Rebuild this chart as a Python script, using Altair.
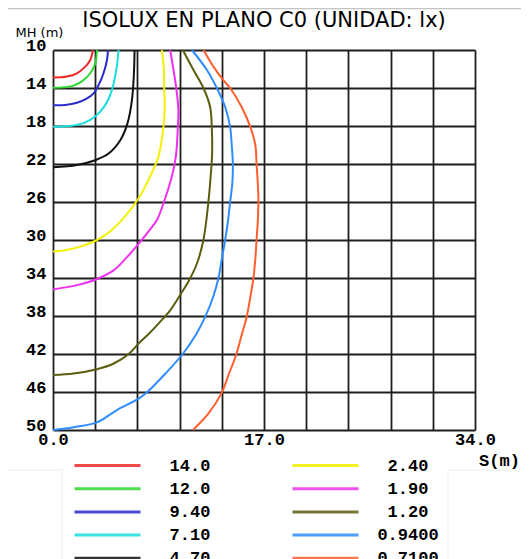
import altair as alt
import pandas as pd

# ---- data ----
levels = ["14.0", "12.0", "9.40", "7.10", "4.70", "2.40", "1.90", "1.20", "0.9400", "0.7100"]
colors = ["#ee2a2a", "#2fd82f", "#2a2acc", "#18dede", "#111111",
          "#f2f200", "#f030f0", "#5c5c10", "#2f8cff", "#ff5f2e"]

x_14 = [3.22, 3.0, 2.6, 1.93, 1.13, 0.0]
y_14 = [10.0, 11.05, 11.75, 12.45, 12.8, 12.9]

x_12 = [3.54, 3.41, 3.0, 2.33, 1.53, 0.0]
y_12 = [10.0, 11.4, 12.45, 13.3, 13.8, 13.97]

x_94 = [4.43, 4.35, 4.07, 3.67, 3.27, 2.74, 1.93, 0.99, 0.0]
y_94 = [10.0, 11.05, 12.45, 13.7, 14.56, 15.09, 15.55, 15.79, 15.82]

x_71 = [5.28, 5.1, 4.75, 4.21, 3.4, 2.46, 1.39, 0.0]
y_71 = [10.0, 12.1, 14.2, 15.8, 17.0, 17.7, 18.0, 18.07]

x_47 = [6.57, 6.52, 6.36, 6.0, 5.42, 4.48, 3.4, 1.93, 0.0]
y_47 = [10.0, 12.45, 15.27, 17.72, 19.5, 20.9, 21.6, 22.1, 22.35]

x_24 = [8.77, 8.93, 8.96, 9.0, 8.9, 8.5, 7.83, 6.9, 5.68, 4.6, 3.54, 2.2, 0.85, 0.0]
y_24 = [10.0, 12.0, 14.0, 16.0, 18.1, 21.2, 23.3, 25.6, 27.7, 29.1, 30.0, 30.7, 31.1, 31.2]

x_19 = [9.44, 9.93, 10.1, 10.06, 9.9, 9.58, 9.04, 8.37, 7.7, 7.03, 5.96, 4.88, 3.54, 1.93, 0.0]
y_19 = [10.0, 14.0, 16.3, 18.1, 21.2, 23.3, 25.6, 27.9, 29.1, 30.2, 31.8, 33.2, 34.1, 34.75, 35.2]

x_12b = [10.46, 11.32, 12.12, 12.66, 12.8, 12.82, 12.72, 12.52, 12.12, 11.59, 10.9, 10.38,
         9.44, 8.5, 7.7, 6.9, 6.1, 4.9, 3.54, 1.66, 0.0]
y_12b = [10.0, 12.1, 14.0, 16.0, 18.4, 20.9, 23.0, 26.0, 30.0, 32.5, 34.4, 35.5,
         37.4, 38.8, 39.9, 40.9, 42.0, 43.0, 43.6, 44.05, 44.2]

x_094 = [11.19, 12.4, 13.2, 13.87, 14.27, 14.4, 14.49, 14.45, 14.27, 14.1, 13.87, 13.6, 13.33,
         12.9, 12.26, 11.5, 10.45, 9.1, 7.6, 6.9, 5.15, 3.54, 1.66, 0.0]
y_094 = [10.0, 12.1, 14.0, 16.0, 18.1, 20.0, 22.0, 24.0, 26.0, 28.0, 30.0, 32.0, 34.0,
         36.0, 38.1, 40.0, 42.0, 44.0, 46.0, 46.7, 47.9, 49.2, 49.7, 50.0]

x_071 = [12.13, 12.9, 13.74, 14.27, 15.2, 15.9, 16.3, 16.4, 16.5, 16.55, 16.5, 16.4, 16.3,
         16.15, 15.9, 15.6, 15.2, 14.75, 14.2, 13.55, 12.5, 11.27]
y_071 = [10.0, 11.7, 13.2, 14.0, 16.0, 18.1, 20.0, 22.0, 24.0, 26.0, 28.0, 30.0, 32.0,
         34.0, 36.0, 38.1, 40.0, 42.1, 44.0, 46.2, 48.3, 50.0]

x_ticks = [0, 3.4, 6.8, 10.2, 13.6, 17.0, 20.4, 23.8, 27.2, 30.6, 34.0]
y_ticks = [10, 14, 18, 22, 26, 30, 34, 38, 42, 46, 50]

series = [
    ("14.0", x_14, y_14), ("12.0", x_12, y_12), ("9.40", x_94, y_94),
    ("7.10", x_71, y_71), ("4.70", x_47, y_47), ("2.40", x_24, y_24),
    ("1.90", x_19, y_19), ("1.20", x_12b, y_12b), ("0.9400", x_094, y_094),
    ("0.7100", x_071, y_071),
]

rows = []
for lev, xs, ys in series:
    for i, (a, b) in enumerate(zip(xs, ys)):
        rows.append({"level": lev, "s": a, "mh": b, "i": i})
df = pd.DataFrame(rows)

mono = "Liberation Mono"
gothic = "DejaVu Sans"
grid_col = "#1e1e1e"

x_label_expr = ("(datum.value < 0.01 || abs(datum.value - 17) < 0.01 || datum.value > 33.99)"
                " ? format(datum.value, '.1f') : ''")

lines = alt.Chart(df).mark_line(strokeWidth=2, interpolate="catmull-rom").encode(
    x=alt.X("s:Q",
            scale=alt.Scale(domain=[0, 34], nice=False, zero=False),
            axis=alt.Axis(values=x_ticks, grid=True, gridColor=grid_col, gridWidth=1.8,
                          gridOpacity=1, domain=False, ticks=False,
                          labelExpr=x_label_expr, labelFlush=False, labelOverlap=False,
                          labelFont=mono, labelFontSize=17, labelFontWeight="bold",
                          labelColor="black", labelPadding=1, labelBaseline="top",
                          title="S(m)", titleFont=mono, titleFontSize=17,
                          titleFontWeight="bold", titleColor="black",
                          titleX=446, titleY=35, titleAlign="center",
                          titleBaseline="alphabetic")),
    y=alt.Y("mh:Q",
            scale=alt.Scale(domain=[10, 50], reverse=True, nice=False, zero=False),
            axis=alt.Axis(values=y_ticks, grid=True, gridColor=grid_col, gridWidth=1.8,
                          gridOpacity=1, domain=False, ticks=False, labelOverlap=False,
                          labelFont=mono, labelFontSize=17, labelFontWeight="bold",
                          labelColor="black", labelPadding=7, labelBaseline="alphabetic",
                          title="MH (m)", titleAngle=0, titleX=-38, titleY=-14,
                          titleAlign="left", titleBaseline="alphabetic",
                          titleFont=gothic, titleFontSize=13, titleFontWeight="normal",
                          titleColor="black")),
    color=alt.Color("level:N",
                    scale=alt.Scale(domain=levels, range=colors),
                    legend=alt.Legend(title=None, orient="none", legendX=20, legendY=405.5,
                                      columns=2, symbolType="stroke", symbolSize=4356,
                                      symbolStrokeWidth=3, symbolOpacity=0.85,
                                      clipHeight=20, rowPadding=3.2, columnPadding=80,
                                      labelFont=mono, labelFontSize=17,
                                      labelFontWeight="bold", labelColor="black",
                                      labelAlign="center", labelOffset=48,
                                      labelBaseline="middle", labelLimit=200, padding=0)),
    order="i:Q",
)

one = pd.DataFrame({"k": [0]})
top_line = alt.Chart(one).mark_rule(color="#c4c4c4", strokeWidth=1.5).encode(
    x=alt.value(-45), x2=alt.value(480), y=alt.value(-41.5))
faint = "#ececec"
box1 = alt.Chart(one).mark_rule(color=faint, strokeWidth=1).encode(
    x=alt.value(-45), x2=alt.value(9), y=alt.value(420))
box2 = alt.Chart(one).mark_rule(color=faint, strokeWidth=1).encode(
    x=alt.value(9), y=alt.value(420), y2=alt.value(520))
box3 = alt.Chart(one).mark_rule(color=faint, strokeWidth=1).encode(
    x=alt.value(395), x2=alt.value(480), y=alt.value(420))
box4 = alt.Chart(one).mark_rule(color=faint, strokeWidth=1).encode(
    x=alt.value(395), y=alt.value(420), y2=alt.value(520))

chart = alt.layer(top_line, box1, box2, box3, box4, lines).properties(
    width=422, height=380,
    autosize="none",
    padding={"left": 45, "top": 42, "right": 46, "bottom": 129},
    title=alt.Title("ISOLUX EN PLANO C0 (UNIDAD: lx)", font=gothic, fontSize=21,
                    fontWeight="normal", color="black", anchor="middle",
                    baseline="alphabetic", offset=-40),
    background="white",
).configure_view(stroke=None)

chart.save("out.html", embed_options={"renderer": "svg", "actions": False})
